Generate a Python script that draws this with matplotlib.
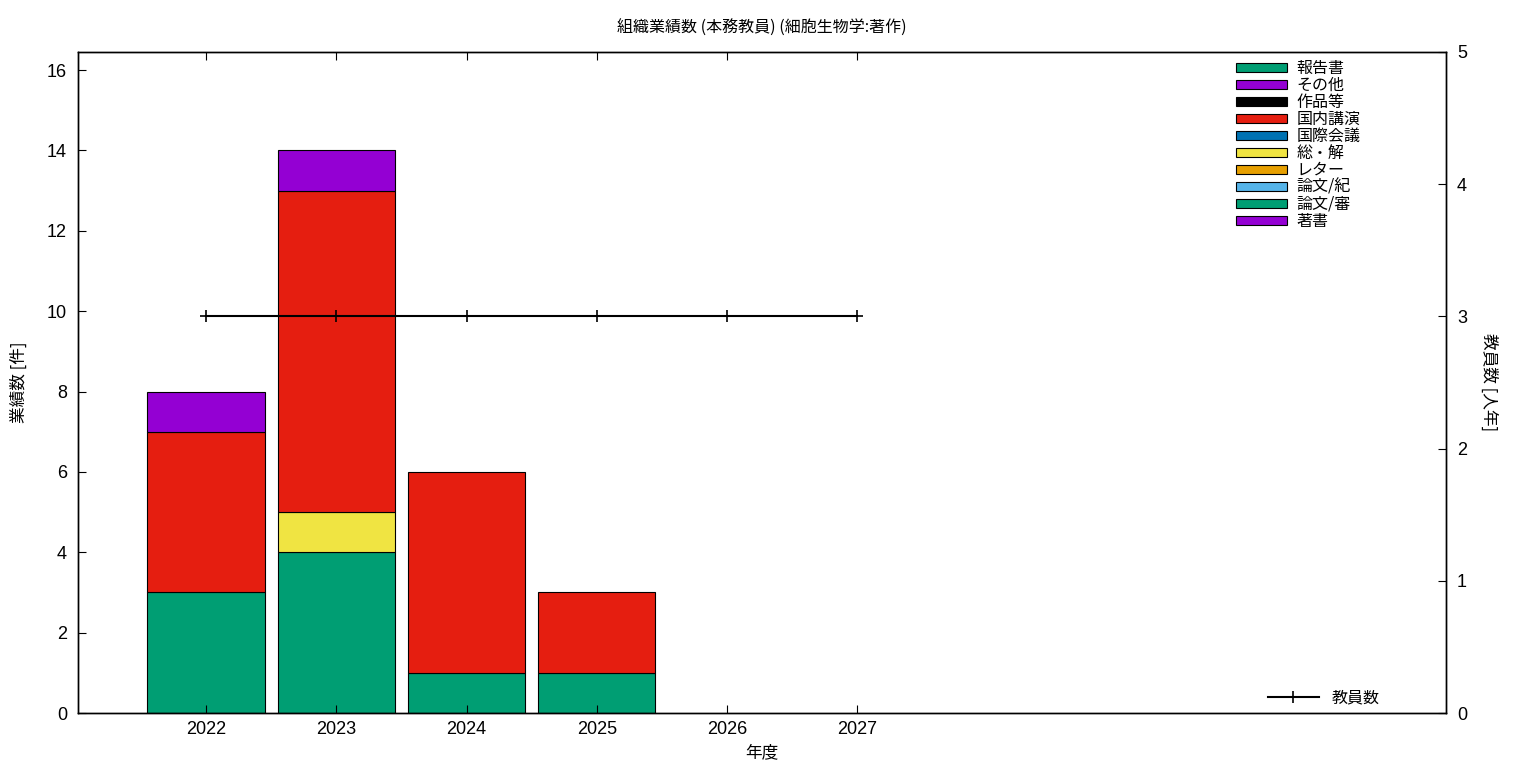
import matplotlib
matplotlib.use("Agg")
import matplotlib.pyplot as plt
from matplotlib.patches import Patch
from matplotlib.lines import Line2D
import numpy as np

plt.rcParams['font.family'] = ['Noto Sans CJK JP', 'DejaVu Sans']

years = [2022, 2023, 2024, 2025, 2026, 2027]
# stacking order bottom -> top
categories = ['著書', '論文/審', '論文/紀', 'レター', '総・解', '国際会議', '国内講演', '作品等', 'その他', '報告書']
colors = ['#9400d3', '#009e73', '#56b4e9', '#e69f00', '#f0e442', '#0072b2', '#e51e10', '#000000', '#9400d3', '#009e73']
chosho = [0, 0, 0, 0, 0, 0]
ronbun_shin = [3, 4, 1, 1, 0, 0]
ronbun_ki = [0, 0, 0, 0, 0, 0]
letter = [0, 0, 0, 0, 0, 0]
sokai = [0, 1, 0, 0, 0, 0]
kokusai = [0, 0, 0, 0, 0, 0]
kokunai = [4, 8, 5, 2, 0, 0]
sakuhin = [0, 0, 0, 0, 0, 0]
sonota = [1, 1, 0, 0, 0, 0]
hokoku = [0, 0, 0, 0, 0, 0]
series = [chosho, ronbun_shin, ronbun_ki, letter, sokai, kokusai, kokunai, sakuhin, sonota, hokoku]
faculty = [3, 3, 3, 3, 3, 3]

fig = plt.figure(figsize=(15.36, 7.68), dpi=100)
ax = fig.add_axes([78/1536, 1-713/768, (1446-78)/1536, (713-52)/768])
ax2 = ax.twinx()

bottom = np.zeros(len(years))
for vals, col in zip(series, colors):
    v = np.array(vals, dtype=float)
    mask = v > 0
    if mask.any():
        ax.bar(np.array(years)[mask], v[mask], bottom=bottom[mask], width=0.9, color=col,
               edgecolor='black', linewidth=0.8, zorder=1)
    bottom += v

ax2.plot(years, faculty, color='black', linewidth=1.5, marker='+', markersize=8, markeredgewidth=1.2)

ax.set_xlim(2021.017, 2031.52)
ax.set_ylim(0, 16.45)
ax2.set_ylim(0, 5)
ax.set_xticks(years)
ax.set_yticks(range(0, 17, 2))
ax2.set_yticks(range(0, 6))
tickfont = ['Liberation Sans', 'DejaVu Sans']
ax.tick_params(axis='x', direction='in', top=True, length=6, labelsize=13, pad=6)
ax.tick_params(axis='y', direction='in', right=False, length=6, labelsize=13, pad=8)
ax2.tick_params(axis='y', direction='in', length=6, labelsize=13, pad=8)
for lab in ax.get_xticklabels() + ax.get_yticklabels() + ax2.get_yticklabels():
    lab.set_family(tickfont)

ax.set_xlabel('年度', fontsize=12, labelpad=4)
ax.set_ylabel('業績数 [件]', fontsize=12, labelpad=14)
ax2.set_ylabel('教員数 [人年]', fontsize=12, rotation=-90, labelpad=22)
ax.set_title('組織業績数 (本務教員) (細胞生物学:著作)', fontsize=11.5, pad=14)

legend_order = list(range(len(categories)))[::-1]
handles = [Patch(facecolor=colors[i], edgecolor='black', linewidth=0.8) for i in legend_order]
labels = [categories[i] for i in legend_order]
leg = ax2.legend(handles, labels, loc='upper right', bbox_to_anchor=(0.948, 1.01), frameon=False,
                 fontsize=11.5, handlelength=3.2, handleheight=0.5, labelspacing=0.0,
                 handletextpad=0.6, borderaxespad=0.5)
ax2.add_artist(leg)
ax2.legend([Line2D([0], [0], color='black', linewidth=1.5, marker='+', markersize=8, markeredgewidth=1.2)],
           ['教員数'], loc='lower right', bbox_to_anchor=(0.962, -0.012), frameon=False, fontsize=11.5,
           handlelength=3.2, handletextpad=0.8)

for a in (ax, ax2):
    for s in a.spines.values():
        s.set_linewidth(1.0)

fig.savefig('out.png', dpi=100)
